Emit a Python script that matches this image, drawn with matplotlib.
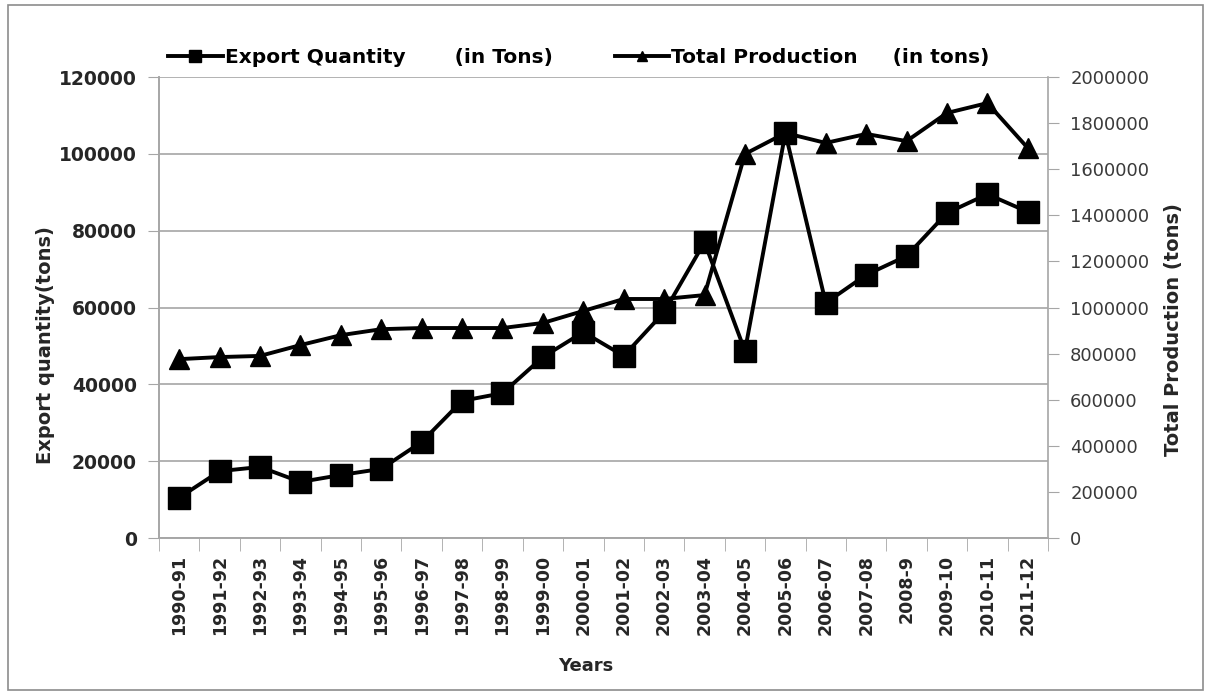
import matplotlib.pyplot as plt
from matplotlib.patches import Rectangle
from matplotlib.ticker import FuncFormatter
import numpy as np

years = ["1990-91", "1991-92", "1992-93", "1993-94", "1994-95", "1995-96",
         "1996-97", "1997-98", "1998-99", "1999-00", "2000-01", "2001-02",
         "2002-03", "2003-04", "2004-05", "2005-06", "2006-07", "2007-08",
         "2008-9", "2009-10", "2010-11", "2011-12"]

export_qty = [10500, 17400, 18500, 14600, 16400, 18000, 25000, 35700, 37700,
              47100, 53600, 47400, 58800, 77000, 48700, 105400, 61200, 68500,
              73400, 84600, 89500, 84900]

total_prod = [776000, 785000, 790000, 837000, 880000, 906000, 911000, 911000,
              911000, 933000, 985000, 1037000, 1037000, 1054000, 1666000,
              1757000, 1714000, 1753000, 1722000, 1844000, 1887000, 1692000]

plt.rcParams['font.family'] = ['DejaVu Sans']
grey = '#a6a6a6'
txt = '#262626'

fig = plt.figure(figsize=(12.11, 6.97), dpi=100)
fig.patches.append(Rectangle((0.007, 0.01), 0.986, 0.983, transform=fig.transFigure,
                             fill=False, edgecolor='#8c8c8c', linewidth=1.2))

ax = fig.add_axes([0.1313, 0.2281, 0.7341, 0.6614])
ax2 = ax.twinx()

x = np.arange(len(years))
l1, = ax.plot(x, export_qty, color='black', linewidth=2.8, marker='s',
              markersize=16.5, label='Export Quantity       (in Tons)', zorder=4)
l2, = ax2.plot(x, total_prod, color='black', linewidth=2.8, marker='^',
               markersize=14, label='Total Production     (in tons)', zorder=3)

ax.set_xlim(-0.5, len(years) - 0.5)
ax.set_ylim(0, 120000)
ax2.set_ylim(0, 2000000)
ax.set_yticks(np.arange(0, 120001, 20000))
ax2.set_yticks(np.arange(0, 2000001, 200000))
ax2.yaxis.set_major_formatter(FuncFormatter(lambda v, p: f"{int(v)}"))

ax.set_xticks(x)
ax.set_xticklabels(years, rotation=90, fontsize=12.5, fontweight='bold', color=txt)
ax.set_xticks(np.arange(-0.5, len(years), 1), minor=True)
ax.tick_params(axis='x', which='major', length=0, pad=12)
ax.tick_params(axis='x', which='minor', length=9, color=grey)
ax.tick_params(axis='y', length=8, color=grey, labelsize=13.5, labelcolor=txt, pad=8)
for lab in ax.get_yticklabels():
    lab.set_fontweight('bold')
ax2.tick_params(axis='y', length=8, color=grey, labelsize=13, labelcolor='#3a3a3a', pad=8)

ax.yaxis.grid(True, color=grey, linewidth=1.2)
ax.set_axisbelow(True)
for a in (ax, ax2):
    a.spines['top'].set_visible(False)
    for s in ('left', 'right', 'bottom'):
        a.spines[s].set_color(grey)
        a.spines[s].set_linewidth(1.2)
ax.spines['right'].set_visible(False)

ax.set_ylabel('Export quantity(tons)', fontsize=14, fontweight='bold', color=txt)
ax.yaxis.set_label_coords(-0.117, 0.419)
ax2.set_ylabel('Total Production (tons)', fontsize=14, fontweight='bold', color=txt)
ax2.yaxis.set_label_coords(1.131, 0.453)
ax.set_xlabel('Years', fontsize=13, fontweight='bold', color=txt)
ax.xaxis.set_label_coords(0.48, -0.258)

fig.legend(handles=[l1, l2], loc='center left', bbox_to_anchor=(0.124, 0.918),
           ncol=2, frameon=False, prop={'size': 14.5, 'weight': 'bold'},
           handlelength=2.7, handletextpad=0.1, columnspacing=3.1, markerscale=0.55)

fig.savefig('out.png', dpi=100)
